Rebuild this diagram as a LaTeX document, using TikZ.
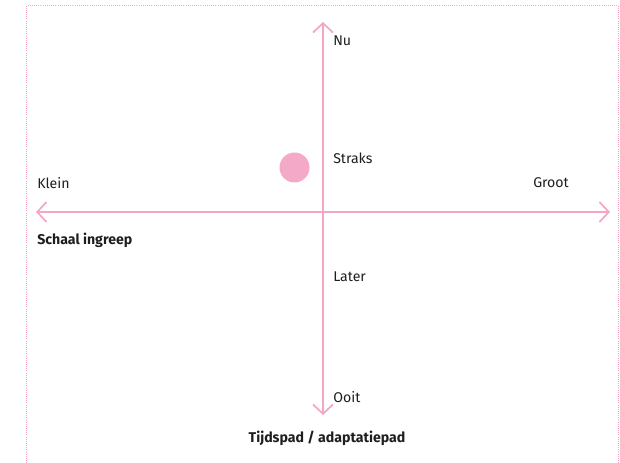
\documentclass[tikz,border=0pt]{standalone}
\usepackage{fontspec}
\setmainfont{Fira Sans}
\usetikzlibrary{arrows.meta}
\definecolor{axispink}{HTML}{F4A6C6}
\definecolor{dotpink}{HTML}{F5A9C8}
\definecolor{labeltext}{HTML}{1E1E1E}
\tikzset{
  axis/.style={draw=axispink, line width=1.1pt,
    {Straight Barb[length=7pt,width=15pt,line width=1.3pt]}-{Straight Barb[length=7pt,width=15pt,line width=1.3pt]}},
  frame/.style={draw=axispink, densely dotted, line width=0.6pt},
  lbl/.style={text=labeltext, font=\fontsize{10.6pt}{12pt}\selectfont, inner sep=0pt},
  title/.style={lbl, font=\fontsize{10.6pt}{12pt}\selectfont\bfseries}
}
\begin{document}
\begin{tikzpicture}[x=0.75pt,y=-0.75pt]
  \useasboundingbox (0,0) rectangle (620,463);
  % dotted frame, open at the bottom
  \coordinate (fbl) at (26.5,463);
  \coordinate (ftl) at (26.5,5.5);
  \coordinate (ftr) at (618.5,5.5);
  \coordinate (fbr) at (618.5,463);
  \draw[frame] (fbl) -- (ftl) -- (ftr) -- (fbr);
  % axes
  \coordinate (top) at (323,22);
  \coordinate (bottom) at (323,415);
  \coordinate (left) at (36,212);
  \coordinate (right) at (610,212);
  \draw[axis] (bottom) -- (top);
  \draw[axis] (left) -- (right);
  % position marker
  \node[circle, fill=dotpink, minimum size=22.5pt, inner sep=0pt] (dot) at (294.5,167.5) {};
  % labels
  \node[lbl, anchor=west] (nu) at (333,41) {Nu};
  \node[lbl, anchor=west] (straks) at (333,158) {Straks};
  \node[lbl, anchor=west] (later) at (333,277) {Later};
  \node[lbl, anchor=west] (ooit) at (333,397) {Ooit};
  \node[lbl, anchor=west] (klein) at (37,183) {Klein};
  \node[lbl, anchor=west] (groot) at (533,183) {Groot};
  \node[title, anchor=west] (schaal) at (37,240) {Schaal ingreep};
  \node[title] (tijd) at (327,438) {Tijdspad / adaptatiepad};
\end{tikzpicture}
\end{document}
